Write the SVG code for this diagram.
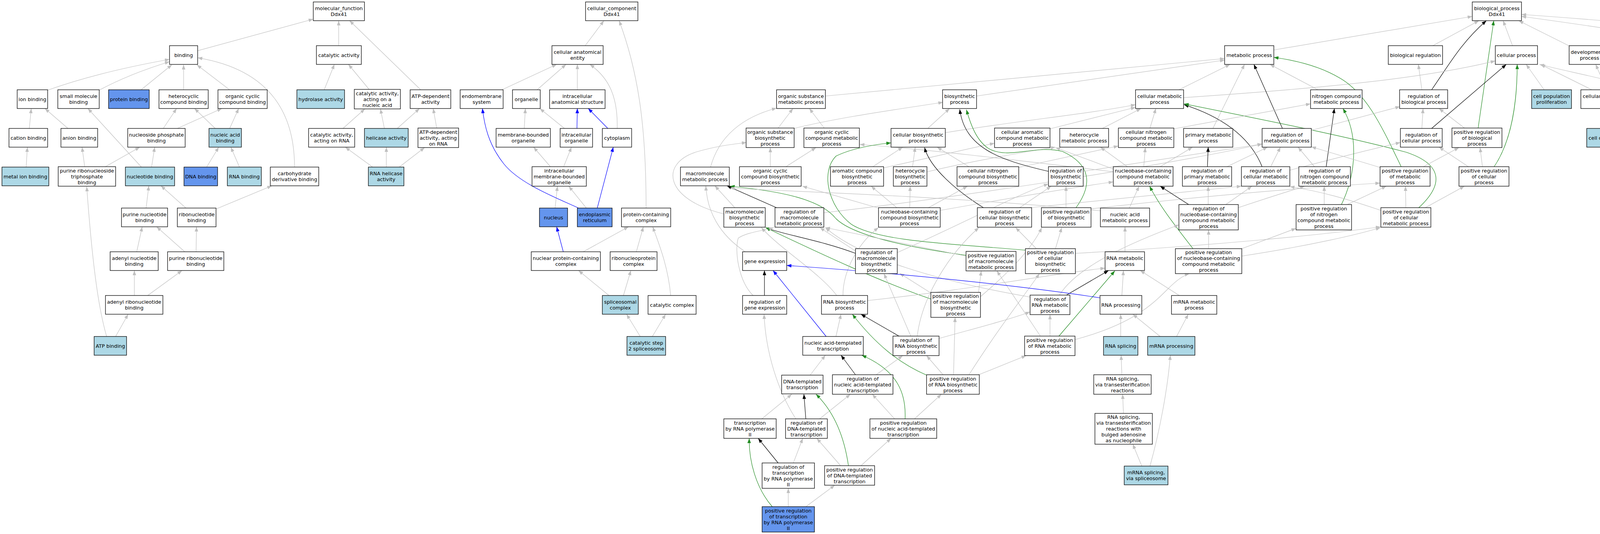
<svg xmlns="http://www.w3.org/2000/svg" width="4985" height="1368" viewBox="0 0 4985 1368">
<style>
.node rect{fill:#fff;stroke:#000;stroke-width:1.3}
.lb rect{fill:#ADD8E6}
.db rect{fill:#6495ED}
text{font-family:"DejaVu Sans","Liberation Sans",sans-serif;font-size:12.8px;text-anchor:middle;fill:#000}
#edges path{fill:none;stroke-width:1.2}
.g{stroke:#C0C0C0;marker-end:url(#ag)}
.k{stroke:#000;marker-end:url(#ak)}
.p{stroke:#228B22;marker-end:url(#ap)}
.b{stroke:#0000FF;marker-end:url(#ab)}
</style>
<defs>
<marker id="ag" markerUnits="userSpaceOnUse" markerWidth="12" markerHeight="9" refX="12" refY="4.5" orient="auto"><path d="M0,0 L12,4.5 L0,9 z" fill="#C0C0C0"/></marker>
<marker id="ak" markerUnits="userSpaceOnUse" markerWidth="12" markerHeight="9" refX="12" refY="4.5" orient="auto"><path d="M0,0 L12,4.5 L0,9 z" fill="#000"/></marker>
<marker id="ap" markerUnits="userSpaceOnUse" markerWidth="12" markerHeight="9" refX="12" refY="4.5" orient="auto"><path d="M0,0 L12,4.5 L0,9 z" fill="#228B22"/></marker>
<marker id="ab" markerUnits="userSpaceOnUse" markerWidth="12" markerHeight="9" refX="12" refY="4.5" orient="auto"><path d="M0,0 L12,4.5 L0,9 z" fill="#0000FF"/></marker>
</defs>
<rect width="4985" height="1368" fill="#fff"/>
<g id="edges">
<path class="g" d="M506,130 L802,49"/>
<path class="g" d="M122,231 Q250,185 434,152"/>
<path class="g" d="M254,231 Q330,190 434,158"/>
<path class="g" d="M360,231 L440,166"/>
<path class="g" d="M470,231 L470,166"/>
<path class="g" d="M589,231 L504,166"/>
<path class="g" d="M754,428 C754,300 700,180 506,148"/>
<path class="g" d="M75,329 L80,278"/>
<path class="g" d="M174,329 L115,278"/>
<path class="g" d="M418,329 L452,278"/>
<path class="g" d="M454,329 L568,278"/>
<path class="g" d="M551,329 L498,278"/>
<path class="g" d="M588,329 L611,278"/>
<path class="g" d="M67,428 L70,377"/>
<path class="g" d="M217,428 L210,377"/>
<path class="g" d="M268,428 L358,377"/>
<path class="g" d="M388,428 L396,377"/>
<path class="g" d="M362,428 L225,278"/>
<path class="g" d="M529,428 L560,377"/>
<path class="g" d="M613,428 L591,377"/>
<path class="g" d="M374,533 L381,476"/>
<path class="g" d="M476,533 L412,476"/>
<path class="g" d="M554,535 L696,476"/>
<path class="g" d="M350,645 L364,581"/>
<path class="g" d="M473,645 L401,581"/>
<path class="g" d="M502,645 L503,581"/>
<path class="g" d="M344,757 L344,693"/>
<path class="g" d="M378,757 L466,693"/>
<path class="g" d="M296,862 L328,805"/>
<path class="g" d="M273,862 C255,800 238,700 222,478"/>
<path class="g" d="M867,117 L867,53"/>
<path class="g" d="M1077,230 L895,53"/>
<path class="g" d="M830,230 L856,165"/>
<path class="g" d="M945,229 L892,165"/>
<path class="g" d="M878,329 L934,279"/>
<path class="g" d="M984,329 L974,279"/>
<path class="g" d="M1017,329 L1074,278"/>
<path class="g" d="M1118,328 L1109,278"/>
<path class="g" d="M954,428 L884,377"/>
<path class="g" d="M989,428 L989,377"/>
<path class="g" d="M1022,428 L1087,378"/>
<path class="g" d="M1498,117 L1546,53"/>
<path class="g" d="M1654,533 C1654,350 1640,200 1585,53"/>
<path class="g" d="M1285,230 L1425,165"/>
<path class="g" d="M1375,230 L1449,165"/>
<path class="g" d="M1478,230 L1478,165"/>
<path class="g" d="M1580,329 C1582,250 1560,200 1510,165"/>
<path class="g" d="M1342,329 L1345,278"/>
<path class="g" d="M1445,329 L1382,278"/>
<path class="b" d="M1477,329 L1478,278"/>
<path class="b" d="M1556,329 L1506,278"/>
<path class="g" d="M1409,427 L1366,377"/>
<path class="g" d="M1443,427 L1463,377"/>
<path class="g" d="M1421,533 L1427,477"/>
<path class="g" d="M1501,533 L1456,477"/>
<path class="b" d="M1481,533 C1420,505 1330,470 1290,420 C1250,370 1240,320 1235,278"/>
<path class="b" d="M1529,533 L1570,377"/>
<path class="b" d="M1442,645 L1425,581"/>
<path class="g" d="M1493,645 L1609,581"/>
<path class="g" d="M1629,645 L1647,581"/>
<path class="g" d="M1559,757 L1481,693"/>
<path class="g" d="M1596,757 L1615,693"/>
<path class="g" d="M1639,862 L1604,805"/>
<path class="g" d="M1717,757 C1710,680 1685,620 1671,581"/>
<path class="g" d="M1670,862 L1704,805"/>
<path class="g" d="M3261,128 L3769,42"/>
<path class="g" d="M3668,117 L3786,53"/>
<path class="g" d="M3872,117 L3848,53"/>
<path class="g" d="M4016,117 L3888,53"/>
<path class="g" d="M4432,133 C4300,100 4100,70 3895,42"/>
<path class="g" d="M4700,128 C4450,80 4150,55 3895,37"/>
<path class="g" d="M3640,230 L3631,165"/>
<path class="k" d="M3665,230 C3710,165 3740,110 3805,53"/>
<path class="p" d="M3784,328 L3824,53"/>
<path class="g" d="M3749,328 L3684,278"/>
<path class="g" d="M3640,329 L3643,278"/>
<path class="k" d="M3665,329 L3856,165"/>
<path class="p" d="M3825,427 C3870,360 3884,260 3884,165"/>
<path class="g" d="M3759,427 L3684,377"/>
<path class="g" d="M3795,427 L3789,378"/>
<path class="g" d="M3953,230 L3907,165"/>
<path class="g" d="M4075,230 L3944,165"/>
<path class="g" d="M4113,230 L4085,165"/>
<path class="g" d="M4125,329 L4125,278"/>
<path class="g" d="M4228,233 C4100,200 4000,180 3941,165"/>
<path class="g" d="M3374,230 L3251,165"/>
<path class="g" d="M3030,250 C3400,225 3650,200 3828,156"/>
<path class="g" d="M2113,246 L3135,150"/>
<path class="g" d="M2500,246 L3135,154"/>
<path class="g" d="M3018,230 L3149,165"/>
<path class="g" d="M3105,329 L3186,165"/>
<path class="k" d="M3283,329 L3210,165"/>
<path class="p" d="M3587,427 C3540,330 3500,240 3430,200 C3380,170 3320,155 3261,147"/>
<path class="g" d="M1992,328 L2030,278"/>
<path class="g" d="M2033,329 C2150,300 2300,280 2414,262"/>
<path class="g" d="M2110,328 L2072,278"/>
<path class="g" d="M1819,428 C1840,350 1900,300 1988,277"/>
<path class="g" d="M2376,328 L2431,278"/>
<path class="g" d="M2420,340 C2600,310 2800,290 2907,268"/>
<path class="g" d="M2262,430 C2400,400 2480,380 2546,367"/>
<path class="g" d="M2374,440 C2500,410 2620,390 2702,377"/>
<path class="g" d="M2608,429 L2863,374"/>
<path class="g" d="M2688,330 L2907,275"/>
<path class="g" d="M2822,329 L2921,278"/>
<path class="g" d="M2944,328 L2959,278"/>
<path class="k" d="M3231,427 C3200,350 3130,300 3031,268"/>
<path class="p" d="M3631,533 C3700,470 3690,420 3600,390 C3450,350 3250,310 3031,266"/>
<path class="g" d="M2850,440 C2600,410 2350,380 2201,370"/>
<path class="g" d="M2850,433 L2702,378"/>
<path class="g" d="M2886,427 L2817,377"/>
<path class="g" d="M2928,427 L2932,378"/>
<path class="g" d="M2970,427 L3053,377"/>
<path class="g" d="M1972,427 L1972,378"/>
<path class="g" d="M2012,427 L2089,378"/>
<path class="g" d="M2233,428 L2311,377"/>
<path class="g" d="M2336,428 L2343,377"/>
<path class="g" d="M2482,428 L2399,377"/>
<path class="g" d="M2297,533 L2230,477"/>
<path class="g" d="M2329,533 L2330,477"/>
<path class="g" d="M2375,533 L2477,477"/>
<path class="g" d="M2249,533 L2054,477"/>
<path class="g" d="M2407,539 C2600,505 2750,480 2850,466"/>
<path class="g" d="M1882,533 L1830,476"/>
<path class="g" d="M1853,548 C1700,510 1690,420 1780,390 C1830,375 1870,370 1911,365"/>
<path class="k" d="M1990,533 L1861,476"/>
<path class="g" d="M2109,545 C2500,500 3000,420 3231,369"/>
<path class="p" d="M2473,654 C2300,630 2180,600 2140,560 C2100,510 2000,490 1869,477"/>
<path class="g" d="M2473,656 L2113,583"/>
<path class="g" d="M1908,645 C1840,600 1810,540 1807,476"/>
<path class="k" d="M2190,649 C2100,615 2000,600 1960,583"/>
<path class="g" d="M2190,643 L2099,583"/>
<path class="g" d="M2297,647 C2450,580 2600,500 2684,471"/>
<path class="p" d="M2383,766 C2250,720 2100,650 1960,583"/>
<path class="g" d="M2390,755 L2303,700"/>
<path class="g" d="M2505,749 L2512,694"/>
<path class="g" d="M2510,760 C2580,700 2640,640 2667,583"/>
<path class="k" d="M2684,439 C2560,410 2470,380 2457,280"/>
<path class="p" d="M2754,533 C2800,470 2790,420 2720,388 C2650,370 2580,410 2530,380 C2500,360 2485,320 2474,281"/>
<path class="g" d="M2773,439 L3231,369"/>
<path class="g" d="M2729,533 L2729,477"/>
<path class="g" d="M2793,535 C3100,500 3350,480 3533,469"/>
<path class="g" d="M2609,533 L2691,477"/>
<path class="k" d="M2519,533 C2450,490 2380,430 2367,378"/>
<path class="g" d="M2628,533 L3178,477"/>
<path class="g" d="M2702,637 L2718,583"/>
<path class="g" d="M2653,637 L2600,583"/>
<path class="p" d="M2625,641 C2450,625 2250,620 2180,575 C2120,530 2100,440 2140,400 C2180,380 2240,370 2281,366"/>
<path class="g" d="M2753,649 C3100,630 3400,600 3534,581"/>
<path class="g" d="M2891,533 L2916,477"/>
<path class="g" d="M2817,540 C2400,500 2000,490 1869,482"/>
<path class="g" d="M2880,645 L2880,581"/>
<path class="k" d="M3091,427 L3093,377"/>
<path class="g" d="M3141,427 L3245,377"/>
<path class="g" d="M3253,427 L3278,377"/>
<path class="g" d="M3302,436 C3400,410 3500,385 3585,365"/>
<path class="k" d="M3395,427 L3416,278"/>
<path class="g" d="M3365,427 L3323,377"/>
<path class="g" d="M3357,334 L3584,273"/>
<path class="k" d="M3043,524 L2970,477"/>
<path class="g" d="M3093,524 L3093,477"/>
<path class="g" d="M3138,524 L3205,477"/>
<path class="g" d="M3170,532 C3250,505 3300,490 3340,477"/>
<path class="p" d="M3054,637 C3010,580 2970,530 2943,477"/>
<path class="g" d="M3094,637 L3094,589"/>
<path class="g" d="M3179,637 L3318,585"/>
<path class="g" d="M3179,656 C3350,630 3480,600 3534,583"/>
<path class="p" d="M3434,524 C3470,450 3480,350 3438,278"/>
<path class="g" d="M3390,524 L3390,477"/>
<path class="g" d="M3449,524 L3549,477"/>
<path class="g" d="M3533,429 L3357,376"/>
<path class="g" d="M3644,427 L3735,378"/>
<path class="g" d="M3599,533 L3598,477"/>
<path class="g" d="M3647,533 L3749,477"/>
<path class="g" d="M3535,539 C3450,510 3380,490 3302,478"/>
<path class="g" d="M3005,330 L3355,266"/>
<path class="k" d="M1957,757 L1957,693"/>
<path class="g" d="M1928,757 C1890,720 1880,640 1890,610 C1910,595 1960,590 1981,583"/>
<path class="b" d="M2115,862 L1979,693"/>
<path class="g" d="M2140,862 L2153,805"/>
<path class="g" d="M2221,770 C2500,740 2700,700 2829,687"/>
<path class="g" d="M2142,757 C2100,700 2000,640 1949,583"/>
<path class="g" d="M2158,757 C2158,690 2200,620 2249,583"/>
<path class="k" d="M2303,862 L2204,805"/>
<path class="g" d="M2332,862 L2263,701"/>
<path class="g" d="M2348,862 C2360,760 2430,650 2506,583"/>
<path class="g" d="M2404,867 C2500,840 2580,820 2637,799"/>
<path class="p" d="M2372,961 C2300,930 2240,880 2182,805"/>
<path class="g" d="M2415,961 L2372,911"/>
<path class="g" d="M2441,961 L2445,813"/>
<path class="g" d="M2503,961 L2627,911"/>
<path class="g" d="M2480,961 C2550,850 2620,760 2661,701"/>
<path class="g" d="M2074,961 L2113,910"/>
<path class="k" d="M2190,960 L2153,910"/>
<path class="g" d="M2243,960 L2311,911"/>
<path class="p" d="M2317,1074 C2320,1010 2300,950 2206,910"/>
<path class="g" d="M2291,1074 L2233,1010"/>
<path class="g" d="M2340,1074 L2410,1010"/>
<path class="g" d="M1949,1074 L2027,1010"/>
<path class="k" d="M2063,1074 L2058,1010"/>
<path class="g" d="M2097,1074 L2177,1010"/>
<path class="g" d="M2038,1074 C1990,1000 1960,900 1956,805"/>
<path class="p" d="M2172,1193 C2160,1110 2130,1050 2089,1010"/>
<path class="g" d="M2152,1193 L2091,1123"/>
<path class="g" d="M2204,1193 L2281,1123"/>
<path class="k" d="M1992,1186 L1941,1123"/>
<path class="g" d="M2031,1186 L2055,1123"/>
<path class="p" d="M1977,1298 C1935,1250 1917,1180 1918,1123"/>
<path class="g" d="M2018,1298 L2018,1251"/>
<path class="g" d="M2063,1298 L2137,1243"/>
<path class="k" d="M2730,756 L2838,693"/>
<path class="g" d="M2712,756 C2760,680 2900,620 3018,576"/>
<path class="g" d="M2637,761 C2400,720 2200,660 2113,583"/>
<path class="p" d="M2710,862 L2854,694"/>
<path class="g" d="M2688,862 L2688,806"/>
<path class="g" d="M2664,862 L2552,694"/>
<path class="g" d="M2752,870 C2900,830 2950,780 2990,740 C3010,720 3030,705 3045,701"/>
<path class="g" d="M2872,757 L2876,693"/>
<path class="b" d="M2816,763 C2600,730 2300,700 2014,680"/>
<path class="g" d="M3019,757 L2919,693"/>
<path class="g" d="M2869,862 L2869,805"/>
<path class="g" d="M2970,862 L2900,805"/>
<path class="g" d="M3012,862 L3042,805"/>
<path class="g" d="M2872,960 L2870,910"/>
<path class="g" d="M2876,1059 L2874,1010"/>
<path class="g" d="M2923,1194 L2900,1138"/>
<path class="g" d="M2944,1194 C2970,1100 2990,990 2996,910"/>
<path class="g" d="M4326,230 L4432,165"/>
<path class="g" d="M4424,230 L4458,165"/>
<path class="g" d="M4523,230 L4490,165"/>
<path class="g" d="M4629,230 L4517,165"/>
<path class="g" d="M4747,233 C4680,205 4600,180 4517,158"/>
<path class="g" d="M4286,328 L4286,278"/>
<path class="g" d="M4318,328 L4379,278"/>
<path class="g" d="M4426,329 L4416,278"/>
<path class="g" d="M4637,328 L4573,278"/>
<path class="g" d="M4671,328 L4671,278"/>
<path class="g" d="M4294,428 L4290,378"/>
<path class="g" d="M4330,428 L4398,377"/>
<path class="g" d="M4432,428 L4432,377"/>
<path class="g" d="M4754,428 L4704,378"/>
<path class="g" d="M4798,428 C4830,350 4860,260 4816,180"/>
<path class="g" d="M4903,428 L4808,278"/>
<path class="g" d="M4297,533 L4297,476"/>
<path class="g" d="M4329,533 L4400,476"/>
<path class="g" d="M4432,533 L4432,476"/>
<path class="g" d="M4879,533 L4813,476"/>
<path class="g" d="M4911,533 L4915,476"/>
<path class="g" d="M4350,645 L4315,583"/>
<path class="g" d="M4379,645 L4415,581"/>
<path class="g" d="M4782,645 L4782,476"/>
<path class="g" d="M4908,645 L4908,581"/>
<path class="g" d="M4831,757 L4795,693"/>
<path class="g" d="M4858,757 L4895,693"/>
</g>
<g id="n_mf" class="node"><rect x="802" y="5" width="131" height="48"/><text><tspan x="867.5" y="26.1">molecular_function</tspan><tspan x="867.5" y="41.1">Ddx41</tspan></text></g>
<g id="n_binding" class="node"><rect x="434" y="117" width="72" height="48"/><text><tspan x="470" y="145.6">binding</tspan></text></g>
<g id="n_catact" class="node"><rect x="810" y="117" width="115" height="48"/><text><tspan x="867.5" y="145.6">catalytic activity</tspan></text></g>
<g id="n_ionb" class="node"><rect x="44" y="230" width="78" height="48"/><text><tspan x="83" y="258.6">ion binding</tspan></text></g>
<g id="n_smb" class="node"><rect x="148" y="230" width="106" height="48"/><text><tspan x="201" y="251.1">small molecule</tspan><tspan x="201" y="266.1">binding</tspan></text></g>
<g id="n_protb" class="node db"><rect x="278" y="230" width="104" height="48"/><text><tspan x="330" y="258.6">protein binding</tspan></text></g>
<g id="n_hetb" class="node"><rect x="407" y="230" width="126" height="48"/><text><tspan x="470" y="251.1">heterocyclic</tspan><tspan x="470" y="266.1">compound binding</tspan></text></g>
<g id="n_ocb" class="node"><rect x="558" y="230" width="126" height="48"/><text><tspan x="621" y="251.1">organic cyclic</tspan><tspan x="621" y="266.1">compound binding</tspan></text></g>
<g id="n_hydro" class="node lb"><rect x="760" y="230" width="122" height="48"/><text><tspan x="821" y="258.6">hydrolase activity</tspan></text></g>
<g id="n_canuc" class="node"><rect x="907" y="229" width="118" height="50"/><text><tspan x="966" y="243.6">catalytic activity,</tspan><tspan x="966" y="258.6">acting on a</tspan><tspan x="966" y="273.6">nucleic acid</tspan></text></g>
<g id="n_atpdep" class="node"><rect x="1050" y="230" width="104" height="48"/><text><tspan x="1102" y="251.1">ATP-dependent</tspan><tspan x="1102" y="266.1">activity</tspan></text></g>
<g id="n_endo" class="node"><rect x="1178" y="230" width="110" height="48"/><text><tspan x="1233" y="251.1">endomembrane</tspan><tspan x="1233" y="266.1">system</tspan></text></g>
<g id="n_organelle" class="node"><rect x="1312" y="230" width="71" height="48"/><text><tspan x="1347.5" y="258.6">organelle</tspan></text></g>
<g id="n_ias" class="node"><rect x="1407" y="230" width="142" height="48"/><text><tspan x="1478" y="251.1">intracellular</tspan><tspan x="1478" y="266.1">anatomical structure</tspan></text></g>
<g id="n_cae" class="node"><rect x="1413" y="117" width="131" height="48"/><text><tspan x="1478.5" y="138.1">cellular anatomical</tspan><tspan x="1478.5" y="153.1">entity</tspan></text></g>
<g id="n_cc" class="node"><rect x="1499" y="5" width="134" height="48"/><text><tspan x="1566" y="26.1">cellular_component</tspan><tspan x="1566" y="41.1">Ddx41</tspan></text></g>
<g id="n_cation" class="node"><rect x="23" y="329" width="99" height="48"/><text><tspan x="72.5" y="357.6">cation binding</tspan></text></g>
<g id="n_anion" class="node"><rect x="156" y="329" width="94" height="48"/><text><tspan x="203" y="357.6">anion binding</tspan></text></g>
<g id="n_nspb" class="node"><rect x="327" y="329" width="147" height="48"/><text><tspan x="400.5" y="350.1">nucleoside phosphate</tspan><tspan x="400.5" y="365.1">binding</tspan></text></g>
<g id="n_nab" class="node lb"><rect x="535" y="329" width="83" height="48"/><text><tspan x="576.5" y="350.1">nucleic acid</tspan><tspan x="576.5" y="365.1">binding</tspan></text></g>
<g id="n_carna" class="node"><rect x="790" y="329" width="118" height="48"/><text><tspan x="849" y="350.1">catalytic activity,</tspan><tspan x="849" y="365.1">acting on RNA</tspan></text></g>
<g id="n_helic" class="node lb"><rect x="933" y="329" width="112" height="48"/><text><tspan x="989" y="357.6">helicase activity</tspan></text></g>
<g id="n_atprna" class="node"><rect x="1070" y="328" width="104" height="50"/><text><tspan x="1122" y="342.6">ATP-dependent</tspan><tspan x="1122" y="357.6">activity, acting</tspan><tspan x="1122" y="372.6">on RNA</tspan></text></g>
<g id="n_mbo" class="node"><rect x="1270" y="329" width="139" height="48"/><text><tspan x="1339.5" y="350.1">membrane-bounded</tspan><tspan x="1339.5" y="365.1">organelle</tspan></text></g>
<g id="n_io" class="node"><rect x="1434" y="329" width="83" height="48"/><text><tspan x="1475.5" y="350.1">intracellular</tspan><tspan x="1475.5" y="365.1">organelle</tspan></text></g>
<g id="n_cyto" class="node"><rect x="1542" y="329" width="75" height="48"/><text><tspan x="1579.5" y="357.6">cytoplasm</tspan></text></g>
<g id="n_metal" class="node lb"><rect x="5" y="428" width="120" height="48"/><text><tspan x="65" y="456.6">metal ion binding</tspan></text></g>
<g id="n_prtb" class="node"><rect x="149" y="427" width="147" height="50"/><text><tspan x="222.5" y="441.6">purine ribonucleoside</tspan><tspan x="222.5" y="456.6">triphosphate</tspan><tspan x="222.5" y="471.6">binding</tspan></text></g>
<g id="n_nucb" class="node lb"><rect x="321" y="428" width="126" height="48"/><text><tspan x="384" y="456.6">nucleotide binding</tspan></text></g>
<g id="n_dnab" class="node db"><rect x="471" y="428" width="86" height="48"/><text><tspan x="514" y="456.6">DNA binding</tspan></text></g>
<g id="n_rnab" class="node lb"><rect x="582" y="428" width="87" height="48"/><text><tspan x="625.5" y="456.6">RNA binding</tspan></text></g>
<g id="n_carb" class="node"><rect x="692" y="428" width="124" height="48"/><text><tspan x="754" y="449.1">carbohydrate</tspan><tspan x="754" y="464.1">derivative binding</tspan></text></g>
<g id="n_rnahel" class="node lb"><rect x="943" y="428" width="91" height="48"/><text><tspan x="988.5" y="449.1">RNA helicase</tspan><tspan x="988.5" y="464.1">activity</tspan></text></g>
<g id="n_imbo" class="node"><rect x="1362" y="427" width="139" height="50"/><text><tspan x="1431.5" y="441.6">intracellular</tspan><tspan x="1431.5" y="456.6">membrane-bounded</tspan><tspan x="1431.5" y="471.6">organelle</tspan></text></g>
<g id="n_pnb" class="node"><rect x="311" y="533" width="118" height="48"/><text><tspan x="370" y="554.1">purine nucleotide</tspan><tspan x="370" y="569.1">binding</tspan></text></g>
<g id="n_rnb" class="node"><rect x="454" y="533" width="99" height="48"/><text><tspan x="503.5" y="554.1">ribonucleotide</tspan><tspan x="503.5" y="569.1">binding</tspan></text></g>
<g id="n_nucleus" class="node db"><rect x="1381" y="533" width="72" height="48"/><text><tspan x="1417" y="561.6">nucleus</tspan></text></g>
<g id="n_er" class="node db"><rect x="1478" y="533" width="89" height="48"/><text><tspan x="1522.5" y="554.1">endoplasmic</tspan><tspan x="1522.5" y="569.1">reticulum</tspan></text></g>
<g id="n_pcc" class="node"><rect x="1591" y="533" width="126" height="48"/><text><tspan x="1654" y="554.1">protein-containing</tspan><tspan x="1654" y="569.1">complex</tspan></text></g>
<g id="n_anb" class="node"><rect x="282" y="645" width="123" height="48"/><text><tspan x="343.5" y="666.1">adenyl nucleotide</tspan><tspan x="343.5" y="681.1">binding</tspan></text></g>
<g id="n_prnb" class="node"><rect x="429" y="645" width="144" height="48"/><text><tspan x="501" y="666.1">purine ribonucleotide</tspan><tspan x="501" y="681.1">binding</tspan></text></g>
<g id="n_npcc" class="node"><rect x="1360" y="645" width="177" height="48"/><text><tspan x="1448.5" y="666.1">nuclear protein-containing</tspan><tspan x="1448.5" y="681.1">complex</tspan></text></g>
<g id="n_rnp" class="node"><rect x="1562" y="645" width="120" height="48"/><text><tspan x="1622" y="666.1">ribonucleoprotein</tspan><tspan x="1622" y="681.1">complex</tspan></text></g>
<g id="n_arnb" class="node"><rect x="270" y="757" width="147" height="48"/><text><tspan x="343.5" y="778.1">adenyl ribonucleotide</tspan><tspan x="343.5" y="793.1">binding</tspan></text></g>
<g id="n_splc" class="node lb"><rect x="1542" y="757" width="92" height="48"/><text><tspan x="1588" y="778.1">spliceosomal</tspan><tspan x="1588" y="793.1">complex</tspan></text></g>
<g id="n_catc" class="node"><rect x="1659" y="757" width="123" height="48"/><text><tspan x="1720.5" y="785.6">catalytic complex</tspan></text></g>
<g id="n_atpb" class="node lb"><rect x="241" y="862" width="83" height="48"/><text><tspan x="282.5" y="890.6">ATP binding</tspan></text></g>
<g id="n_cs2" class="node lb"><rect x="1605" y="862" width="99" height="48"/><text><tspan x="1654.5" y="883.1">catalytic step</tspan><tspan x="1654.5" y="898.1">2 spliceosome</tspan></text></g>
<g id="n_bp" class="node"><rect x="3769" y="5" width="126" height="48"/><text><tspan x="3832" y="26.1">biological_process</tspan><tspan x="3832" y="41.1">Ddx41</tspan></text></g>
<g id="n_met" class="node"><rect x="3135" y="117" width="126" height="48"/><text><tspan x="3198" y="145.6">metabolic process</tspan></text></g>
<g id="n_breg" class="node"><rect x="3554" y="117" width="139" height="48"/><text><tspan x="3623.5" y="145.6">biological regulation</tspan></text></g>
<g id="n_cp" class="node"><rect x="3828" y="117" width="108" height="48"/><text><tspan x="3882" y="145.6">cellular process</tspan></text></g>
<g id="n_dev" class="node"><rect x="4017" y="117" width="104" height="48"/><text><tspan x="4069" y="138.1">developmental</tspan><tspan x="4069" y="153.1">process</tspan></text></g>
<g id="n_rstim" class="node"><rect x="4431" y="117" width="84" height="48"/><text><tspan x="4473" y="138.1">response to</tspan><tspan x="4473" y="153.1">stimulus</tspan></text></g>
<g id="n_bpinter" class="node"><rect x="4700" y="102" width="135" height="78"/><text><tspan x="4767.5" y="115.6">biological process</tspan><tspan x="4767.5" y="130.6">involved in</tspan><tspan x="4767.5" y="145.6">interspecies</tspan><tspan x="4767.5" y="160.6">interaction</tspan><tspan x="4767.5" y="175.6">between organisms</tspan></text></g>
<g id="n_osmp" class="node"><rect x="1988" y="230" width="125" height="48"/><text><tspan x="2050.5" y="251.1">organic substance</tspan><tspan x="2050.5" y="266.1">metabolic process</tspan></text></g>
<g id="n_biosyn" class="node"><rect x="2413" y="230" width="87" height="48"/><text><tspan x="2456.5" y="251.1">biosynthetic</tspan><tspan x="2456.5" y="266.1">process</tspan></text></g>
<g id="n_cmp" class="node"><rect x="2907" y="230" width="123" height="48"/><text><tspan x="2968.5" y="251.1">cellular metabolic</tspan><tspan x="2968.5" y="266.1">process</tspan></text></g>
<g id="n_ncmp" class="node"><rect x="3355" y="230" width="132" height="48"/><text><tspan x="3421" y="251.1">nitrogen compound</tspan><tspan x="3421" y="266.1">metabolic process</tspan></text></g>
<g id="n_rbp" class="node"><rect x="3583" y="230" width="123" height="48"/><text><tspan x="3644.5" y="251.1">regulation of</tspan><tspan x="3644.5" y="266.1">biological process</tspan></text></g>
<g id="n_cpp" class="node lb"><rect x="3921" y="230" width="102" height="48"/><text><tspan x="3972" y="251.1">cell population</tspan><tspan x="3972" y="266.1">proliferation</tspan></text></g>
<g id="n_cdp" class="node"><rect x="4047" y="230" width="156" height="48"/><text><tspan x="4125" y="251.1">cellular developmental</tspan><tspan x="4125" y="266.1">process</tspan></text></g>
<g id="n_crs" class="node"><rect x="4227" y="230" width="117" height="48"/><text><tspan x="4285.5" y="251.1">cellular response</tspan><tspan x="4285.5" y="266.1">to stimulus</tspan></text></g>
<g id="n_rchem" class="node"><rect x="4369" y="230" width="83" height="48"/><text><tspan x="4410.5" y="251.1">response to</tspan><tspan x="4410.5" y="266.1">chemical</tspan></text></g>
<g id="n_rext" class="node"><rect x="4476" y="230" width="120" height="48"/><text><tspan x="4536" y="251.1">response to</tspan><tspan x="4536" y="266.1">external stimulus</tspan></text></g>
<g id="n_rbio" class="node"><rect x="4621" y="230" width="102" height="48"/><text><tspan x="4672" y="251.1">response to</tspan><tspan x="4672" y="266.1">biotic stimulus</tspan></text></g>
<g id="n_rstress" class="node"><rect x="4747" y="230" width="83" height="48"/><text><tspan x="4788.5" y="251.1">response to</tspan><tspan x="4788.5" y="266.1">stress</tspan></text></g>
<g id="n_osbp" class="node"><rect x="1910" y="328" width="123" height="50"/><text><tspan x="1971.5" y="342.6">organic substance</tspan><tspan x="1971.5" y="357.6">biosynthetic</tspan><tspan x="1971.5" y="372.6">process</tspan></text></g>
<g id="n_occmp" class="node"><rect x="2058" y="328" width="142" height="50"/><text><tspan x="2129" y="342.6">organic cyclic</tspan><tspan x="2129" y="357.6">compound metabolic</tspan><tspan x="2129" y="372.6">process</tspan></text></g>
<g id="n_cbp" class="node"><rect x="2281" y="329" width="139" height="48"/><text><tspan x="2350.5" y="350.1">cellular biosynthetic</tspan><tspan x="2350.5" y="365.1">process</tspan></text></g>
<g id="n_camp" class="node"><rect x="2546" y="328" width="142" height="50"/><text><tspan x="2617" y="342.6">cellular aromatic</tspan><tspan x="2617" y="357.6">compound metabolic</tspan><tspan x="2617" y="372.6">process</tspan></text></g>
<g id="n_hmp" class="node"><rect x="2713" y="329" width="125" height="48"/><text><tspan x="2775.5" y="350.1">heterocycle</tspan><tspan x="2775.5" y="365.1">metabolic process</tspan></text></g>
<g id="n_cncmp" class="node"><rect x="2863" y="328" width="142" height="50"/><text><tspan x="2934" y="342.6">cellular nitrogen</tspan><tspan x="2934" y="357.6">compound metabolic</tspan><tspan x="2934" y="372.6">process</tspan></text></g>
<g id="n_pmp" class="node"><rect x="3030" y="329" width="126" height="48"/><text><tspan x="3093" y="350.1">primary metabolic</tspan><tspan x="3093" y="365.1">process</tspan></text></g>
<g id="n_rmp" class="node"><rect x="3231" y="329" width="126" height="48"/><text><tspan x="3294" y="350.1">regulation of</tspan><tspan x="3294" y="365.1">metabolic process</tspan></text></g>
<g id="n_rcp" class="node"><rect x="3585" y="329" width="107" height="48"/><text><tspan x="3638.5" y="350.1">regulation of</tspan><tspan x="3638.5" y="365.1">cellular process</tspan></text></g>
<g id="n_prbp" class="node"><rect x="3717" y="328" width="128" height="50"/><text><tspan x="3781" y="342.6">positive regulation</tspan><tspan x="3781" y="357.6">of biological</tspan><tspan x="3781" y="372.6">process</tspan></text></g>
<g id="n_cdiff" class="node lb"><rect x="4062" y="329" width="126" height="48"/><text><tspan x="4125" y="357.6">cell differentiation</tspan></text></g>
<g id="n_crchem" class="node"><rect x="4227" y="328" width="117" height="50"/><text><tspan x="4285.5" y="342.6">cellular response</tspan><tspan x="4285.5" y="357.6">to chemical</tspan><tspan x="4285.5" y="372.6">stimulus</tspan></text></g>
<g id="n_ros" class="node"><rect x="4370" y="329" width="123" height="48"/><text><tspan x="4431.5" y="350.1">response to</tspan><tspan x="4431.5" y="365.1">organic substance</tspan></text></g>
<g id="n_rebs" class="node"><rect x="4622" y="328" width="100" height="50"/><text><tspan x="4672" y="342.6">response to</tspan><tspan x="4672" y="357.6">external biotic</tspan><tspan x="4672" y="372.6">stimulus</tspan></text></g>
<g id="n_mmp" class="node"><rect x="1742" y="428" width="125" height="48"/><text><tspan x="1804.5" y="449.1">macromolecule</tspan><tspan x="1804.5" y="464.1">metabolic process</tspan></text></g>
<g id="n_occbp" class="node"><rect x="1893" y="427" width="158" height="50"/><text><tspan x="1972" y="441.6">organic cyclic</tspan><tspan x="1972" y="456.6">compound biosynthetic</tspan><tspan x="1972" y="471.6">process</tspan></text></g>
<g id="n_acbp" class="node"><rect x="2126" y="427" width="136" height="50"/><text><tspan x="2194" y="441.6">aromatic compound</tspan><tspan x="2194" y="456.6">biosynthetic</tspan><tspan x="2194" y="471.6">process</tspan></text></g>
<g id="n_hbp" class="node"><rect x="2287" y="427" width="86" height="50"/><text><tspan x="2330" y="441.6">heterocycle</tspan><tspan x="2330" y="456.6">biosynthetic</tspan><tspan x="2330" y="471.6">process</tspan></text></g>
<g id="n_cncbp" class="node"><rect x="2450" y="427" width="158" height="50"/><text><tspan x="2529" y="441.6">cellular nitrogen</tspan><tspan x="2529" y="456.6">compound biosynthetic</tspan><tspan x="2529" y="471.6">process</tspan></text></g>
<g id="n_rbsp" class="node"><rect x="2684" y="427" width="89" height="50"/><text><tspan x="2728.5" y="441.6">regulation of</tspan><tspan x="2728.5" y="456.6">biosynthetic</tspan><tspan x="2728.5" y="471.6">process</tspan></text></g>
<g id="n_nbcmp" class="node"><rect x="2850" y="427" width="153" height="50"/><text><tspan x="2926.5" y="441.6">nucleobase-containing</tspan><tspan x="2926.5" y="456.6">compound metabolic</tspan><tspan x="2926.5" y="471.6">process</tspan></text></g>
<g id="n_rpmp" class="node"><rect x="3027" y="427" width="126" height="50"/><text><tspan x="3090" y="441.6">regulation of</tspan><tspan x="3090" y="456.6">primary metabolic</tspan><tspan x="3090" y="471.6">process</tspan></text></g>
<g id="n_rcmp" class="node"><rect x="3178" y="427" width="124" height="50"/><text><tspan x="3240" y="441.6">regulation of</tspan><tspan x="3240" y="456.6">cellular metabolic</tspan><tspan x="3240" y="471.6">process</tspan></text></g>
<g id="n_rncmp" class="node"><rect x="3325" y="427" width="132" height="50"/><text><tspan x="3391" y="441.6">regulation of</tspan><tspan x="3391" y="456.6">nitrogen compound</tspan><tspan x="3391" y="471.6">metabolic process</tspan></text></g>
<g id="n_prmp" class="node"><rect x="3533" y="427" width="128" height="50"/><text><tspan x="3597" y="441.6">positive regulation</tspan><tspan x="3597" y="456.6">of metabolic</tspan><tspan x="3597" y="471.6">process</tspan></text></g>
<g id="n_prcp" class="node"><rect x="3735" y="427" width="128" height="50"/><text><tspan x="3799" y="441.6">positive regulation</tspan><tspan x="3799" y="456.6">of cellular</tspan><tspan x="3799" y="471.6">process</tspan></text></g>
<g id="n_cros" class="node"><rect x="4225" y="428" width="141" height="48"/><text><tspan x="4295.5" y="449.1">cellular response</tspan><tspan x="4295.5" y="464.1">to organic substance</tspan></text></g>
<g id="n_rcyt" class="node"><rect x="4390" y="428" width="82" height="48"/><text><tspan x="4431" y="449.1">response to</tspan><tspan x="4431" y="464.1">cytokine</tspan></text></g>
<g id="n_roo" class="node"><rect x="4729" y="428" width="104" height="48"/><text><tspan x="4781" y="449.1">response to</tspan><tspan x="4781" y="464.1">other organism</tspan></text></g>
<g id="n_def" class="node"><rect x="4858" y="428" width="121" height="48"/><text><tspan x="4918.5" y="456.6">defense response</tspan></text></g>
<g id="n_mbp" class="node"><rect x="1853" y="532" width="106" height="50"/><text><tspan x="1906" y="546.6">macromolecule</tspan><tspan x="1906" y="561.6">biosynthetic</tspan><tspan x="1906" y="576.6">process</tspan></text></g>
<g id="n_rmmp" class="node"><rect x="1984" y="532" width="125" height="50"/><text><tspan x="2046.5" y="546.6">regulation of</tspan><tspan x="2046.5" y="561.6">macromolecule</tspan><tspan x="2046.5" y="576.6">metabolic process</tspan></text></g>
<g id="n_nbcbp" class="node"><rect x="2249" y="532" width="158" height="50"/><text><tspan x="2328" y="546.6">nucleobase-containing</tspan><tspan x="2328" y="561.6">compound biosynthetic</tspan><tspan x="2328" y="576.6">process</tspan></text></g>
<g id="n_rcbp" class="node"><rect x="2502" y="532" width="139" height="50"/><text><tspan x="2571.5" y="546.6">regulation of</tspan><tspan x="2571.5" y="561.6">cellular biosynthetic</tspan><tspan x="2571.5" y="576.6">process</tspan></text></g>
<g id="n_prbsp" class="node"><rect x="2666" y="532" width="127" height="50"/><text><tspan x="2729.5" y="546.6">positive regulation</tspan><tspan x="2729.5" y="561.6">of biosynthetic</tspan><tspan x="2729.5" y="576.6">process</tspan></text></g>
<g id="n_namp" class="node"><rect x="2817" y="533" width="126" height="48"/><text><tspan x="2880" y="554.1">nucleic acid</tspan><tspan x="2880" y="569.1">metabolic process</tspan></text></g>
<g id="n_rnbcmp" class="node"><rect x="3018" y="524" width="152" height="65"/><text><tspan x="3094" y="538.6">regulation of</tspan><tspan x="3094" y="553.6">nucleobase-containing</tspan><tspan x="3094" y="568.6">compound metabolic</tspan><tspan x="3094" y="583.6">process</tspan></text></g>
<g id="n_prncmp" class="node"><rect x="3318" y="524" width="142" height="65"/><text><tspan x="3389" y="538.6">positive regulation</tspan><tspan x="3389" y="553.6">of nitrogen</tspan><tspan x="3389" y="568.6">compound metabolic</tspan><tspan x="3389" y="583.6">process</tspan></text></g>
<g id="n_prcmp" class="node"><rect x="3535" y="532" width="128" height="50"/><text><tspan x="3599" y="546.6">positive regulation</tspan><tspan x="3599" y="561.6">of cellular</tspan><tspan x="3599" y="576.6">metabolic process</tspan></text></g>
<g id="n_crcyt" class="node"><rect x="4238" y="532" width="118" height="50"/><text><tspan x="4297" y="546.6">cellular response</tspan><tspan x="4297" y="561.6">to cytokine</tspan><tspan x="4297" y="576.6">stimulus</tspan></text></g>
<g id="n_rifnb" class="node"><rect x="4380" y="533" width="104" height="48"/><text><tspan x="4432" y="554.1">response to</tspan><tspan x="4432" y="569.1">interferon-beta</tspan></text></g>
<g id="n_droo" class="node"><rect x="4847" y="533" width="122" height="48"/><text><tspan x="4908" y="554.1">defense response</tspan><tspan x="4908" y="569.1">to other organism</tspan></text></g>
<g id="n_gexp" class="node"><rect x="1901" y="645" width="113" height="48"/><text><tspan x="1957.5" y="673.6">gene expression</tspan></text></g>
<g id="n_rmbp" class="node"><rect x="2190" y="637" width="107" height="64"/><text><tspan x="2243.5" y="651.1">regulation of</tspan><tspan x="2243.5" y="666.1">macromolecule</tspan><tspan x="2243.5" y="681.1">biosynthetic</tspan><tspan x="2243.5" y="696.1">process</tspan></text></g>
<g id="n_prmmp" class="node"><rect x="2473" y="644" width="128" height="50"/><text><tspan x="2537" y="658.6">positive regulation</tspan><tspan x="2537" y="673.6">of macromolecule</tspan><tspan x="2537" y="688.6">metabolic process</tspan></text></g>
<g id="n_prcbp" class="node"><rect x="2625" y="637" width="128" height="64"/><text><tspan x="2689" y="651.1">positive regulation</tspan><tspan x="2689" y="666.1">of cellular</tspan><tspan x="2689" y="681.1">biosynthetic</tspan><tspan x="2689" y="696.1">process</tspan></text></g>
<g id="n_rnamp" class="node"><rect x="2829" y="645" width="101" height="48"/><text><tspan x="2879.5" y="666.1">RNA metabolic</tspan><tspan x="2879.5" y="681.1">process</tspan></text></g>
<g id="n_prnbcmp" class="node"><rect x="3009" y="637" width="170" height="64"/><text><tspan x="3094" y="651.1">positive regulation</tspan><tspan x="3094" y="666.1">of nucleobase-containing</tspan><tspan x="3094" y="681.1">compound metabolic</tspan><tspan x="3094" y="696.1">process</tspan></text></g>
<g id="n_crifnb" class="node db"><rect x="4303" y="645" width="121" height="48"/><text><tspan x="4363.5" y="666.1">cellular response</tspan><tspan x="4363.5" y="681.1">to interferon-beta</tspan></text></g>
<g id="n_rvir" class="node"><rect x="4740" y="645" width="83" height="48"/><text><tspan x="4781.5" y="666.1">response to</tspan><tspan x="4781.5" y="681.1">virus</tspan></text></g>
<g id="n_dsym" class="node"><rect x="4848" y="645" width="120" height="48"/><text><tspan x="4908" y="666.1">defense response</tspan><tspan x="4908" y="681.1">to symbiont</tspan></text></g>
<g id="n_rgexp" class="node"><rect x="1901" y="757" width="113" height="48"/><text><tspan x="1957.5" y="778.1">regulation of</tspan><tspan x="1957.5" y="793.1">gene expression</tspan></text></g>
<g id="n_rnabp" class="node"><rect x="2103" y="757" width="118" height="48"/><text><tspan x="2162" y="778.1">RNA biosynthetic</tspan><tspan x="2162" y="793.1">process</tspan></text></g>
<g id="n_prmbp" class="node"><rect x="2383" y="749" width="127" height="64"/><text><tspan x="2446.5" y="763.1">positive regulation</tspan><tspan x="2446.5" y="778.1">of macromolecule</tspan><tspan x="2446.5" y="793.1">biosynthetic</tspan><tspan x="2446.5" y="808.1">process</tspan></text></g>
<g id="n_rrnamp" class="node"><rect x="2637" y="756" width="102" height="50"/><text><tspan x="2688" y="770.6">regulation of</tspan><tspan x="2688" y="785.6">RNA metabolic</tspan><tspan x="2688" y="800.6">process</tspan></text></g>
<g id="n_rnaproc" class="node"><rect x="2816" y="757" width="107" height="48"/><text><tspan x="2869.5" y="785.6">RNA processing</tspan></text></g>
<g id="n_mrnamp" class="node"><rect x="2999" y="757" width="116" height="48"/><text><tspan x="3057" y="778.1">mRNA metabolic</tspan><tspan x="3057" y="793.1">process</tspan></text></g>
<g id="n_drvir" class="node db"><rect x="4784" y="757" width="120" height="48"/><text><tspan x="4844" y="778.1">defense response</tspan><tspan x="4844" y="793.1">to virus</tspan></text></g>
<g id="n_natt" class="node"><rect x="2055" y="862" width="155" height="48"/><text><tspan x="2132.5" y="883.1">nucleic acid-templated</tspan><tspan x="2132.5" y="898.1">transcription</tspan></text></g>
<g id="n_rrnabp" class="node"><rect x="2286" y="861" width="118" height="50"/><text><tspan x="2345" y="875.6">regulation of</tspan><tspan x="2345" y="890.6">RNA biosynthetic</tspan><tspan x="2345" y="905.6">process</tspan></text></g>
<g id="n_prrnamp" class="node"><rect x="2623" y="861" width="129" height="50"/><text><tspan x="2687.5" y="875.6">positive regulation</tspan><tspan x="2687.5" y="890.6">of RNA metabolic</tspan><tspan x="2687.5" y="905.6">process</tspan></text></g>
<g id="n_rnasp" class="node lb"><rect x="2825" y="862" width="88" height="48"/><text><tspan x="2869" y="890.6">RNA splicing</tspan></text></g>
<g id="n_mrnaproc" class="node lb"><rect x="2938" y="862" width="121" height="48"/><text><tspan x="2998.5" y="890.6">mRNA processing</tspan></text></g>
<g id="n_dnatt" class="node"><rect x="2001" y="961" width="106" height="48"/><text><tspan x="2054" y="982.1">DNA-templated</tspan><tspan x="2054" y="997.1">transcription</tspan></text></g>
<g id="n_rnatt" class="node"><rect x="2131" y="960" width="155" height="50"/><text><tspan x="2208.5" y="974.6">regulation of</tspan><tspan x="2208.5" y="989.6">nucleic acid-templated</tspan><tspan x="2208.5" y="1004.6">transcription</tspan></text></g>
<g id="n_prrnabp" class="node"><rect x="2372" y="960" width="135" height="50"/><text><tspan x="2439.5" y="974.6">positive regulation</tspan><tspan x="2439.5" y="989.6">of RNA biosynthetic</tspan><tspan x="2439.5" y="1004.6">process</tspan></text></g>
<g id="n_rnaspt" class="node"><rect x="2800" y="960" width="147" height="50"/><text><tspan x="2873.5" y="974.6">RNA splicing,</tspan><tspan x="2873.5" y="989.6">via transesterification</tspan><tspan x="2873.5" y="1004.6">reactions</tspan></text></g>
<g id="n_trp2" class="node"><rect x="1853" y="1073" width="134" height="50"/><text><tspan x="1920" y="1087.6">transcription</tspan><tspan x="1920" y="1102.6">by RNA polymerase</tspan><tspan x="1920" y="1117.6">II</tspan></text></g>
<g id="n_rdnatt" class="node"><rect x="2011" y="1073" width="107" height="50"/><text><tspan x="2064.5" y="1087.6">regulation of</tspan><tspan x="2064.5" y="1102.6">DNA-templated</tspan><tspan x="2064.5" y="1117.6">transcription</tspan></text></g>
<g id="n_prnatt" class="node"><rect x="2227" y="1073" width="171" height="50"/><text><tspan x="2312.5" y="1087.6">positive regulation</tspan><tspan x="2312.5" y="1102.6">of nucleic acid-templated</tspan><tspan x="2312.5" y="1117.6">transcription</tspan></text></g>
<g id="n_rnasptb" class="node"><rect x="2803" y="1059" width="147" height="79"/><text><tspan x="2876.5" y="1073.1">RNA splicing,</tspan><tspan x="2876.5" y="1088.1">via transesterification</tspan><tspan x="2876.5" y="1103.1">reactions with</tspan><tspan x="2876.5" y="1118.1">bulged adenosine</tspan><tspan x="2876.5" y="1133.1">as nucleophile</tspan></text></g>
<g id="n_rtrp2" class="node"><rect x="1951" y="1186" width="134" height="65"/><text><tspan x="2018" y="1200.6">regulation of</tspan><tspan x="2018" y="1215.6">transcription</tspan><tspan x="2018" y="1230.6">by RNA polymerase</tspan><tspan x="2018" y="1245.6">II</tspan></text></g>
<g id="n_prdnatt" class="node"><rect x="2111" y="1193" width="128" height="50"/><text><tspan x="2175" y="1207.6">positive regulation</tspan><tspan x="2175" y="1222.6">of DNA-templated</tspan><tspan x="2175" y="1237.6">transcription</tspan></text></g>
<g id="n_mrnasp" class="node lb"><rect x="2878" y="1194" width="112" height="48"/><text><tspan x="2934" y="1215.1">mRNA splicing,</tspan><tspan x="2934" y="1230.1">via spliceosome</tspan></text></g>
<g id="n_prtrp2" class="node db"><rect x="1951" y="1298" width="134" height="65"/><text><tspan x="2018" y="1312.6">positive regulation</tspan><tspan x="2018" y="1327.6">of transcription</tspan><tspan x="2018" y="1342.6">by RNA polymerase</tspan><tspan x="2018" y="1357.6">II</tspan></text></g>
</svg>
